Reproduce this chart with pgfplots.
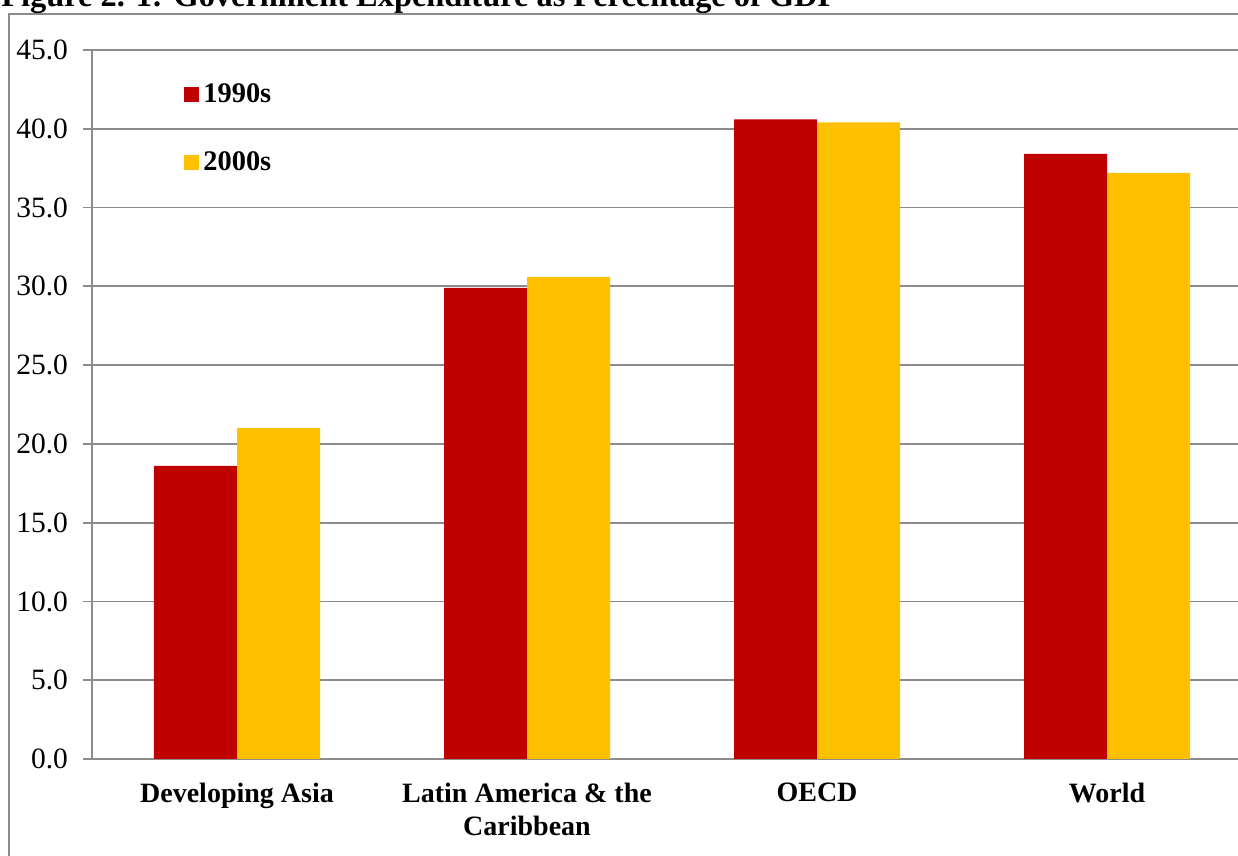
\documentclass[border=0pt]{standalone}
\usepackage{pgfplots}
\pgfplotsset{compat=1.18}
\usepackage{fontspec}
\setmainfont{Liberation Serif}
\definecolor{bar90}{HTML}{C00000}
\definecolor{bar00}{HTML}{FFC000}
\definecolor{gridgray}{HTML}{8C8C8C}

\begin{document}
\begin{tikzpicture}
\useasboundingbox (0,0) rectangle (619pt,428pt);
\clip (0,0) rectangle (619pt,428pt);
% chart frame
\draw[gridgray, line width=0.9pt] (4.5pt,-20pt) rectangle (700pt,421pt);
% figure caption
\node[anchor=base west, inner sep=0pt, font=\fontsize{16.2}{19}\selectfont\bfseries]
  at (0.5pt,424.5pt) {Figure 2. 1: Government Expenditure as Percentage of GDP};
\begin{axis}[
  at={(46pt,48.5pt)}, anchor=south west,
  scale only axis, width=580pt, height=354.5pt,
  xmin=-0.5, xmax=3.5, ymin=0, ymax=45,
  ybar=0pt, bar width=41.5pt,
  axis x line=bottom, axis y line=left,
  axis line style={gridgray, line width=0.9pt, -},
  tick align=outside, major tick length=4.5pt,
  ytick={0,5,...,45},
  ymajorgrids, grid style={gridgray, line width=0.9pt},
  y tick style={gridgray, line width=0.9pt},
  yticklabel style={/pgf/number format/.cd, fixed, fixed zerofill, precision=1,
    assume math mode=true, /tikz/.cd, font=\fontsize{14.75}{17}\selectfont, xshift=-4pt},
  xtick={0,1,2,3},
  xticklabels={Developing Asia, {Latin America \& the\\Caribbean}, OECD, World},
  x tick style={draw=none},
  xticklabel style={font=\fontsize{14}{16.5}\selectfont\bfseries, align=center, yshift=-4pt},
  extra x ticks={-0.5,0.5,1.5,2.5},
  extra x tick labels={},
  extra x tick style={grid=none, tick style={draw=gridgray, line width=0.9pt}},
  legend style={draw=none, fill=none, at={(0,1)}, anchor=north west,
    xshift=46pt, yshift=-14.5pt, inner sep=0pt, row sep=19pt,
    font=\fontsize{14.2}{17}\selectfont\bfseries},
  legend cell align=left,
  legend image code/.code={\fill[#1] (0pt,-3.75pt) rectangle (7.5pt,3.75pt);},
]
\addplot[fill=bar90, draw=none] coordinates {(0,18.6) (1,29.9) (2,40.6) (3,38.4)};
\addplot[fill=bar00, draw=none] coordinates {(0,21.0) (1,30.6) (2,40.4) (3,37.2)};
\legend{1990s, 2000s}
\end{axis}
\end{tikzpicture}
\end{document}
